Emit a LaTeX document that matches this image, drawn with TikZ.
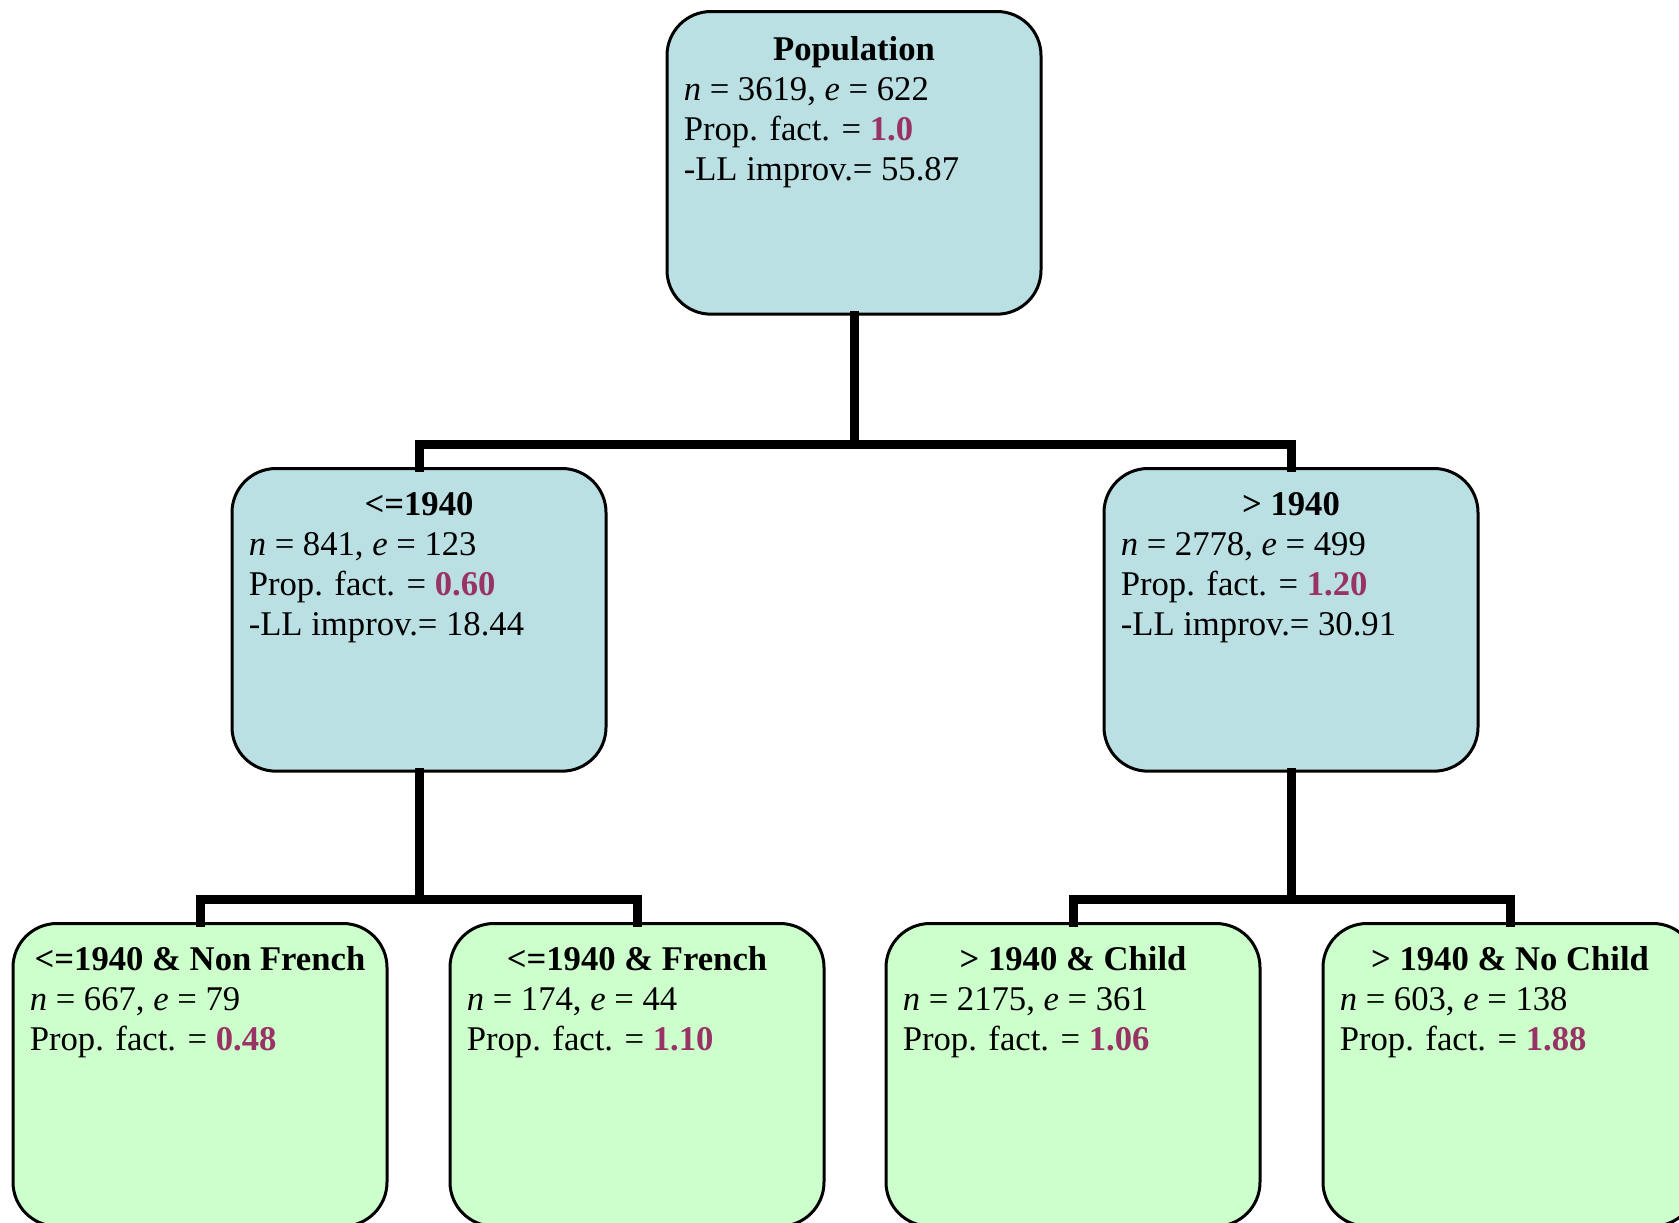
\documentclass[tikz,border=0pt]{standalone}
\usepackage{fontspec}
\setmainfont{Liberation Serif}
\definecolor{boxblue}{RGB}{186,224,227}
\definecolor{boxgreen}{RGB}{204,255,204}
\definecolor{plum}{RGB}{153,51,102}
\newcommand{\pf}[1]{\textcolor{plum}{\textbf{#1}}}
\begin{document}
\begin{tikzpicture}[x=0.75pt,y=-0.75pt,
  treebox/.style={draw=black, line width=2.25pt, rounded corners=33pt,
    minimum width=280.5pt, minimum height=227pt, inner sep=0pt, anchor=north},
  bluebox/.style={treebox, fill=boxblue},
  greenbox/.style={treebox, fill=boxgreen},
  conn/.style={line width=6.75pt, line join=miter, line cap=rect},
  ttl/.style={anchor=base, inner sep=0pt, font=\fontsize{26}{30}\selectfont\bfseries},
  body/.style={anchor=base west, inner sep=0pt, align=left, font=\fontsize{26}{30}\selectfont}
]
\useasboundingbox (0,0) rectangle (1679,1222);
\clip (0,0) rectangle (1679,1222);

% boxes
\node[bluebox] (root) at (854,10) {};
\node[bluebox] (L) at (419,467) {};
\node[bluebox] (R) at (1291,467) {};
\node[greenbox] (LL) at (200,922) {};
\node[greenbox] (LR) at (637,922) {};
\node[greenbox] (RL) at (1073,922) {};
\node[greenbox] (RR) at (1510,922) {};

% texts (base anchor of a multi-line node = baseline of its last line)
\node[ttl] (rootT) at ([yshift=-37.5pt]root.north) {Population};
\node[body] (rootB) at ([xshift=13.5pt,yshift=-127.5pt]root.north west)
  {\textit{n} = 3619, \textit{e} = 622\\Prop. fact. = \pf{1.0}\\-LL improv.= 55.87};

\node[ttl] (LT) at ([yshift=-36pt]L.north) {<=1940};
\node[body] (LB) at ([xshift=13.5pt,yshift=-126pt]L.north west)
  {\textit{n} = 841, \textit{e} = 123\\Prop. fact. = \pf{0.60}\\-LL improv.= 18.44};

\node[ttl] (RT) at ([yshift=-36pt]R.north) {> 1940};
\node[body] (RB) at ([xshift=13.5pt,yshift=-126pt]R.north west)
  {\textit{n} = 2778, \textit{e} = 499\\Prop. fact. = \pf{1.20}\\-LL improv.= 30.91};

\node[ttl] (LLT) at ([yshift=-36pt]LL.north) {<=1940 \& Non French};
\node[body] (LLB) at ([xshift=13.5pt,yshift=-96pt]LL.north west)
  {\textit{n} = 667, \textit{e} = 79\\Prop. fact. = \pf{0.48}};

\node[ttl] (LRT) at ([yshift=-36pt]LR.north) {<=1940 \& French};
\node[body] (LRB) at ([xshift=13.5pt,yshift=-96pt]LR.north west)
  {\textit{n} = 174, \textit{e} = 44\\Prop. fact. = \pf{1.10}};

\node[ttl] (RLT) at ([yshift=-36pt]RL.north) {> 1940 \& Child};
\node[body] (RLB) at ([xshift=13.5pt,yshift=-96pt]RL.north west)
  {\textit{n} = 2175, \textit{e} = 361\\Prop. fact. = \pf{1.06}};

\node[ttl] (RRT) at ([yshift=-36pt]RR.north) {> 1940 \& No Child};
\node[body] (RRB) at ([xshift=13.5pt,yshift=-96pt]RR.north west)
  {\textit{n} = 603, \textit{e} = 138\\Prop. fact. = \pf{1.88}};

% connectors
\draw[conn] (root.south) -- ++(0,129) -| (L.north);
\draw[conn] (root.south) -- ++(0,129) -| (R.north);
\draw[conn] (L.south) -- ++(0,127) -| (LL.north);
\draw[conn] (L.south) -- ++(0,127) -| (LR.north);
\draw[conn] (R.south) -- ++(0,127) -| (RL.north);
\draw[conn] (R.south) -- ++(0,127) -| (RR.north);
\end{tikzpicture}
\end{document}
